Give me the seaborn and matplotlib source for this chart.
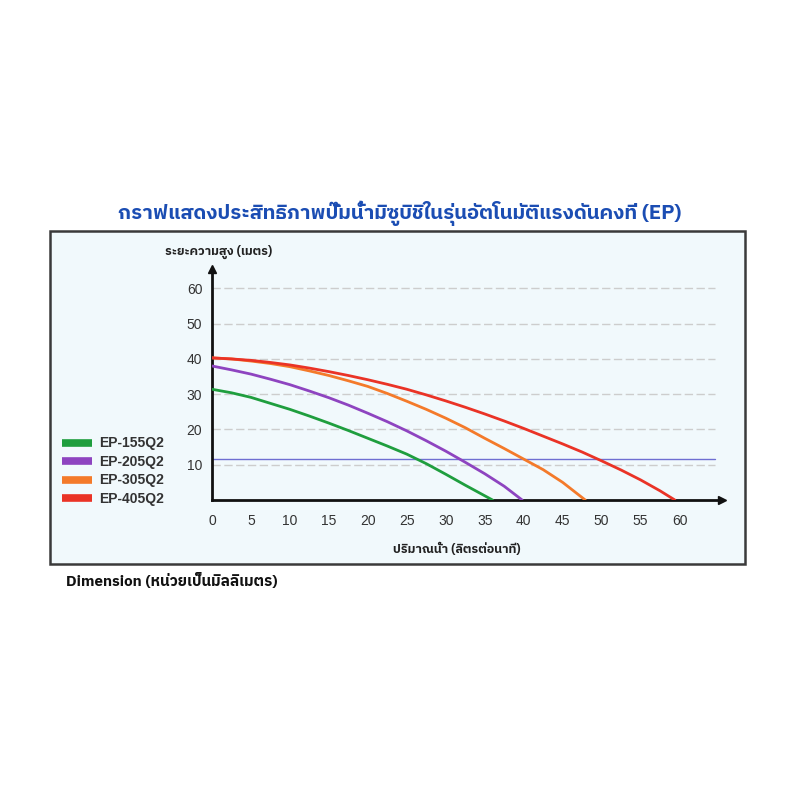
import matplotlib
matplotlib.use("Agg")
import matplotlib.pyplot as plt
import seaborn as sns
import pandas as pd
from matplotlib import font_manager, ft2font
from matplotlib.lines import Line2D
from matplotlib.patches import Rectangle

# ---------------- data ----------------
models = ["EP-155Q2", "EP-205Q2", "EP-305Q2", "EP-405Q2"]
colors = ["#1f9e3e", "#8e44c0", "#f47a2a", "#ea3326"]

ep155_x = [0, 2.5, 5, 7.5, 10, 12.5, 15, 17.5, 20, 22.5, 25, 27.5, 30, 32.5, 35, 36]
ep155_y = [31.4, 30.4, 29.1, 27.4, 25.7, 23.8, 21.8, 19.7, 17.5, 15.3, 13.0, 10.3, 7.3, 4.2, 1.2, 0]

ep205_x = [0, 2.5, 5, 7.5, 10, 12.5, 15, 17.5, 20, 22.5, 25, 27.5, 30, 32.5, 35, 37.5, 39.8]
ep205_y = [38.0, 36.9, 35.7, 34.25, 32.7, 30.9, 29.0, 26.9, 24.6, 22.2, 19.6, 16.8, 13.85, 10.7, 7.45, 3.9, 0]

ep305_x = [0, 2.5, 5, 7.5, 10, 12.5, 15, 17.5, 20, 22.5, 25, 27.5, 30, 32.5, 35, 37.5, 40, 42.5, 45, 47.9]
ep305_y = [40.3, 40.0, 39.4, 38.7, 37.8, 36.6, 35.3, 33.8, 32.2, 30.2, 28.0, 25.7, 23.2, 20.5, 17.5, 14.6, 11.6, 8.6, 5.0, 0]

ep405_x = [0, 2.5, 5, 7.5, 10, 12.5, 15, 17.5, 20, 22.5, 25, 27.5, 30, 32.5, 35, 37.5, 40,
           42.5, 45, 47.5, 50, 52.5, 55, 57.5, 59.4]
ep405_y = [40.3, 40.0, 39.6, 39.0, 38.3, 37.4, 36.4, 35.3, 34.1, 32.8, 31.4, 29.8, 28.1, 26.3,
           24.4, 22.4, 20.3, 18.1, 15.9, 13.6, 11.1, 8.5, 5.7, 2.6, 0]

ref_level = 11.5
x_ticks = [0, 5, 10, 15, 20, 25, 30, 35, 40, 45, 50, 55, 60]
y_ticks = [10, 20, 30, 40, 50, 60]

title = "กราฟแสดงประสิทธิภาพปั๊มน้ำมิซูบิชิในรุ่นอัตโนมัติแรงดันคงที่ (EP)"
y_label = "ระยะความสูง (เมตร)"
x_label = "ปริมาณน้ำ (ลิตรต่อนาที)"
caption = "Dimension (หน่วยเป็นมิลลิเมตร)"

# ---------------- fonts ----------------
sns.set_theme(style="white")
thai_fonts = []
for f in font_manager.fontManager.ttflist:
    try:
        cm = ft2font.FT2Font(f.fname).get_charmap()
        if 0x0E01 in cm and 0x0E49 in cm:
            thai_fonts.append(f.name)
    except Exception:
        pass
thai_fonts = sorted(set(thai_fonts), key=lambda n: (0 if "Sans" in n else 1, n))
fams = thai_fonts[:1] + ["Liberation Sans", "DejaVu Sans"]
plt.rcParams["font.family"] = fams
latin = ["Liberation Sans", "DejaVu Sans"]

# ---------------- frame ----------------
W = H = 800
fig = plt.figure(figsize=(8, 8), dpi=100)
fig.patch.set_facecolor("white")
fig.add_artist(Rectangle((50 / W, 1 - 564 / H), 695 / W, 333 / H,
                         transform=fig.transFigure, facecolor="#f1f9fc",
                         edgecolor="#3a3a3a", lw=1.8, zorder=0))

ax = fig.add_axes([212 / W, 1 - 500 / H, (722.4 - 212) / W, 231 / H])
ax.set_facecolor("none")

frames = []
for m, xs, ys in zip(models, [ep155_x, ep205_x, ep305_x, ep405_x],
                     [ep155_y, ep205_y, ep305_y, ep405_y]):
    frames.append(pd.DataFrame({"flow": xs, "head": ys, "model": m}))
df = pd.concat(frames, ignore_index=True)

# grid lines
for yv in y_ticks:
    ax.plot([0, 64.5], [yv, yv], color="#cdcdcd", lw=1.0,
            linestyle=(0, (6, 2.5)), zorder=1)
ax.plot([0, 64.5], [ref_level, ref_level], color="#6f6fd2", lw=1.0, zorder=2)

sns.lineplot(data=df, x="flow", y="head", hue="model", hue_order=models,
             palette=dict(zip(models, colors)), lw=2.0, sort=False,
             legend=False, ax=ax, zorder=3)

ax.set_xlim(0, 65.5)
ax.set_ylim(0, 65.5)
for s in ["top", "right"]:
    ax.spines[s].set_visible(False)
for s in ["left", "bottom"]:
    ax.spines[s].set_color("#111111")
    ax.spines[s].set_linewidth(2)
ax.plot(1, 0, ">", color="#111111", ms=6, transform=ax.transAxes, clip_on=False)
ax.plot(0, 1, "^", color="#111111", ms=6, transform=ax.transAxes, clip_on=False)

ax.set_xticks(x_ticks)
ax.set_yticks(y_ticks)
ax.tick_params(axis="both", direction="out", length=5, width=1.5,
               color="#111111", labelcolor="#333333", labelsize=10)
ax.tick_params(axis="x", pad=5)
ax.tick_params(axis="y", pad=2)
ax.set_xlabel("")
ax.set_ylabel("")
for lab in ax.get_xticklabels() + ax.get_yticklabels():
    lab.set_family(latin)

# texts
fig.text(400 / W, 1 - 213 / H, title, ha="center", va="center",
         color="#1b4db3", fontsize=14.7, fontweight="bold")
fig.text(165 / W, 1 - 252 / H, y_label, ha="left", va="center",
         color="#222222", fontsize=9, fontweight="bold")
fig.text(457 / W, 1 - 549 / H, x_label, ha="center", va="center",
         color="#222222", fontsize=9, fontweight="bold")
fig.text(66 / W, 1 - 581 / H, caption, ha="left", va="center",
         color="#111111", fontsize=11, fontweight="bold")

# legend
handles = [Line2D([0], [0], color=c, lw=5.5, solid_capstyle="butt") for c in colors]
leg = fig.legend(handles, models, loc="upper left",
                 bbox_to_anchor=(49 / W, 1 - 424 / H), frameon=False,
                 handlelength=2.16, handletextpad=0.58, labelspacing=0.32,
                 prop={"size": 10, "weight": "bold", "family": latin})
for t in leg.get_texts():
    t.set_color("#333333")

fig.savefig("out.png", dpi=100)
